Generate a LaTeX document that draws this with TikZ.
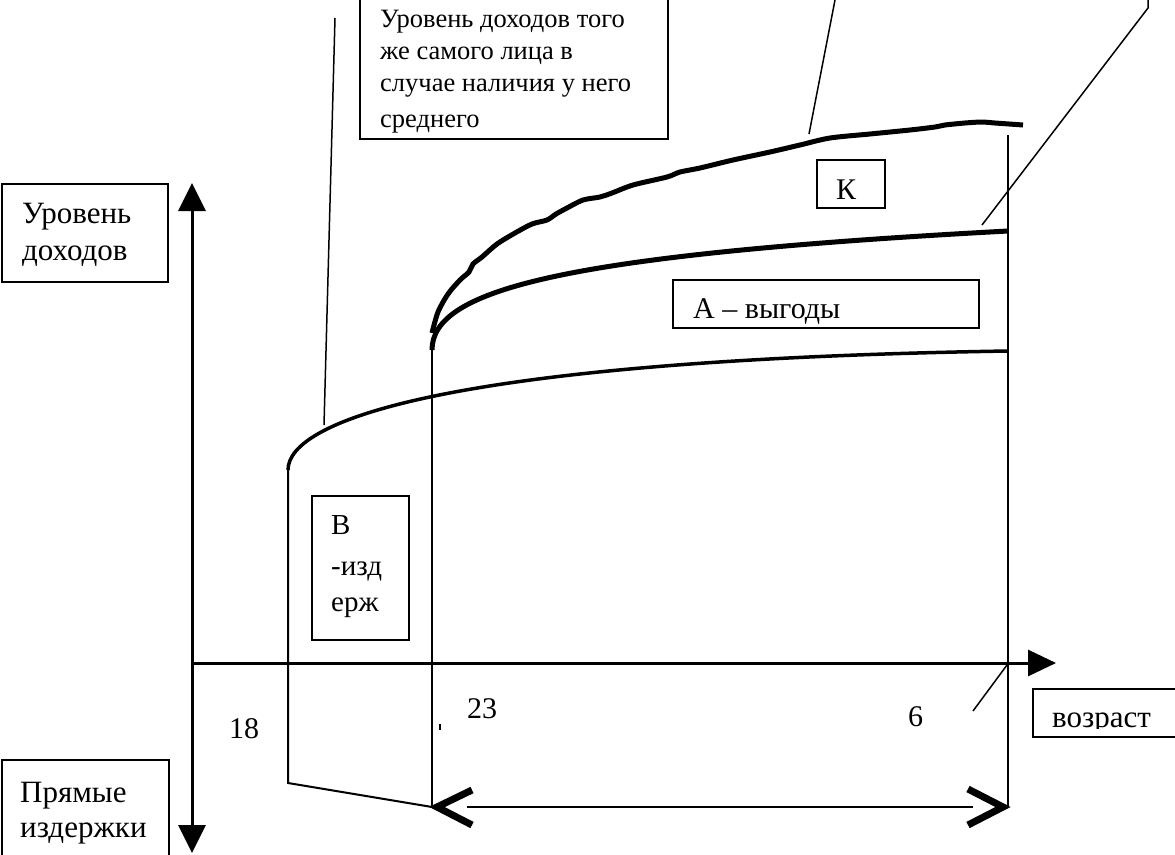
\documentclass[tikz,border=0pt]{standalone}
\usepackage{fontspec}
\setmainfont{Liberation Serif}
\usetikzlibrary{arrows.meta}
\begin{document}
\begin{tikzpicture}[x=1pt,y=-1pt,
  txt/.style={anchor=base west, inner sep=0pt, font=\fontsize{#1}{#1}\selectfont},
  box/.style={draw, line width=1.5pt, inner sep=0pt, anchor=north west},
  axis/.style={line width=3pt},
  thinline/.style={line width=2pt},
  leader/.style={line width=1.5pt},
  thickcurve/.style={line width=5pt},
  chev/.style={line width=7pt, line join=miter}]
\useasboundingbox (0,0) rectangle (1175,854);

% boxes
\node[box, minimum width=308pt, minimum height=148pt] (topbox) at (359,-10) {};
\node[box, minimum width=166pt, minimum height=98pt] (ybox) at (1,183) {};
\node[box, minimum width=167pt, minimum height=120pt] (cbox) at (1,759) {};
\node[box, minimum width=97pt, minimum height=144pt] (bbox) at (311,495) {};
\node[box, minimum width=306pt, minimum height=48pt] (abox) at (672,279) {};
\node[box, minimum width=68pt, minimum height=48pt] (kbox) at (816,159) {};
\node[box, minimum width=160pt, minimum height=48pt] (agebox) at (1032,688) {};

% texts
\node[txt=26.5] (t1) at (380,27) {Уровень доходов того};
\node[txt=26.5] (t2) at (380,59) {же самого лица в};
\node[txt=26.5] (t3) at (380,91) {случае наличия у него};
\node[txt=26.5] (t4) at (380,127) {среднего};
\node[txt=31] (y1) at (22,223) {Уровень};
\node[txt=31] (y2) at (22,260) {доходов};
\node[txt=31] (c1) at (20,802) {Прямые};
\node[txt=31] (c2) at (20,837) {издержки};
\node[txt=29] (b1) at (331,534) {В};
\node[txt=29] (b2) at (331,575) {-изд};
\node[txt=29] (b3) at (331,611) {ерж};
\node[txt=30] (a1) at (693,318) {А – выгоды};
\node[txt=30] (k1) at (836,199) {К};
\node[txt=30] (n18) at (229,738) {18};
\node[txt=30] (n23) at (467,718) {23};
\node[txt=30] (n6) at (908,726) {6};
\begin{scope}
\clip (1032,650) rectangle (1175,728);
\node[txt=31] (age) at (1052,727) {возраст};
\end{scope}

% coordinates
\coordinate (yb) at (192,853);
\coordinate (yt) at (192,183);
\coordinate (x0) at (193,663);
\coordinate (xe) at (1056,663);
\coordinate (p18) at (288,470);
\coordinate (p18b) at (288,783);
\coordinate (p23) at (432,350);
\coordinate (p23t) at (432,333);
\coordinate (p23b) at (432,807);
\coordinate (p6t) at (1008,135);
\coordinate (p6b) at (1008,807);
\coordinate (lowEnd) at (1008,351);
\coordinate (midEnd) at (1008,231);

% axes
\draw[axis, {Triangle[length=28pt,width=27pt]}-{Triangle[length=28pt,width=27pt]}] (yb) -- (yt);
\draw[axis, -{Triangle[length=28pt,width=26pt]}] (x0) -- (xe);

% vertical lines
\draw[thinline] (p18) -- (p18b) -- (p23b);
\draw[thinline] (p23) -- (p23b);
\draw[thinline] (p6t) -- (p6b);

% curves
\draw[line width=3.5pt] (p18) .. controls (288,420) and (450,360) .. (lowEnd);
\draw[thickcurve] (p23) .. controls (432,290) and (560,255) .. (midEnd);
\draw[thickcurve] plot[smooth, tension=0.5] coordinates {(p23t) (438,312) (448,294) (460,280) (469,272) (473,264) (482,257) (497,244) (515,233) (532,224) (547,220) (556,214) (567,208) (583,200) (600,197) (612,193) (633,185) (667,177) (680,172) (700,168) (733,160) (770,152) (800,145) (830,138) (870,134) (910,130) (935,127) (945,125) (965,123) (982,122) (995,123) (1023,125)};

% leader lines
\coordinate (L1a) at (335,18);
\coordinate (L1b) at (324,425);
\coordinate (L2a) at (835,0);
\coordinate (L2b) at (809,134);
\coordinate (L3a) at (1148,0);
\coordinate (L3m) at (1148,8);
\coordinate (L3b) at (982,225);
\coordinate (L4a) at (973,711);
\coordinate (L4b) at (1007,665);
\draw[leader] (L1a) -- (L1b);
\draw[leader] (L2a) -- (L2b);
\draw[leader] (L3a) -- (L3m) -- (L3b);
\draw[leader] (L4a) -- (L4b);

% tick
\coordinate (tk1) at (440,724);
\coordinate (tk2) at (440,730);
\draw[line width=1.5pt] (tk1) -- (tk2);

% double arrow
\coordinate (da1) at (467,807);
\coordinate (da2) at (973,807);
\draw[thinline] (da1) -- (da2);
\coordinate (cl1) at (472,790);
\coordinate (cl2) at (472,825);
\coordinate (cr1) at (968,789);
\coordinate (cr2) at (968,825);
\coordinate (cltip) at (437,807);
\coordinate (crtip) at (1003,807);
\draw[chev] (cl1) -- (cltip) -- (cl2);
\draw[chev] (cr1) -- (crtip) -- (cr2);
\end{tikzpicture}
\end{document}
